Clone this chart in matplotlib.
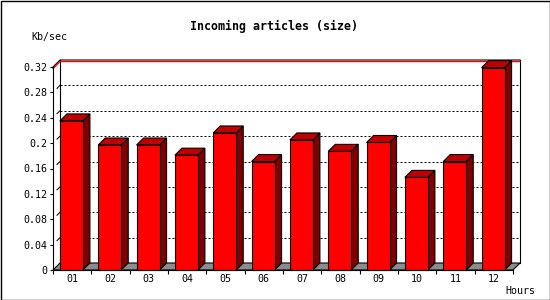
import matplotlib
matplotlib.use("Agg")
import matplotlib.pyplot as plt
from matplotlib.patches import Polygon, Rectangle
from matplotlib.transforms import IdentityTransform, ScaledTranslation

# valores
horas = ['01', '02', '03', '04', '05', '06', '07', '08', '09', '10', '11', '12']
kb_seg = [0.235, 0.197, 0.197, 0.181, 0.216, 0.171, 0.205, 0.187, 0.201, 0.146, 0.171, 0.319]
marcas_y = [0, 0.04, 0.08, 0.12, 0.16, 0.2, 0.24, 0.28, 0.32]
etiquetas_y = ['0', '0.04', '0.08', '0.12', '0.16', '0.2', '0.24', '0.28', '0.32']

MONO = 'DejaVu Sans Mono'
PROF = 7  # profundidad 3D en píxeles
LW = 0.8

fig = plt.figure(figsize=(5.5, 3), dpi=100)
ax = fig.add_axes([53 / 550, 30 / 300, 460 / 550, 203 / 300])
n = len(horas)
ax.set_xlim(0, n)
ax.set_ylim(0, 0.32)

ident = IdentityTransform()
fondo = ax.transData + ScaledTranslation(PROF / 100, PROF / 100, fig.dpi_scale_trans)


def px(x, y, atras=False):
    X, Y = ax.transData.transform((x, y))
    if atras:
        return (X + PROF, Y + PROF)
    return (X, Y)


def poligono(puntos, color, z):
    ax.add_patch(Polygon(puntos, closed=True, facecolor=color, edgecolor='black',
                         linewidth=LW, transform=ident, clip_on=False, zorder=z))


# suelo gris
poligono([px(0, 0), px(n, 0), px(n, 0, True), px(0, 0, True)], '#8c8c8c', 1)

# rejilla punteada en la pared del fondo
for v in marcas_y[1:-1]:
    ax.plot([0, n], [v, v], color='black', lw=0.72, ls=(0, (2, 2)),
            transform=fondo, clip_on=False, zorder=1)
    # pequeña marca diagonal entre el eje y la pared
    p, q = px(0, v), px(0, v, True)
    ax.plot([p[0] + 4, q[0]], [p[1] + 4, q[1]], color='black', lw=0.72,
            transform=ident, clip_on=False, zorder=1)

# bordes de la pared del fondo
ax.plot([0, 0], [0, 0.32], color='black', lw=LW, transform=fondo, clip_on=False, zorder=1)
ax.plot([n, n], [0, 0.32], color='black', lw=LW, transform=fondo, clip_on=False, zorder=1)
a, b = px(0, 0.32), px(0, 0.32, True)
c = px(n, 0.32, True)
ax.plot([a[0], b[0], c[0]], [a[1] - 1.6, b[1] - 1.6, c[1] - 1.6], color='red', lw=0.9,
        transform=ident, clip_on=False, zorder=1)
ax.plot([a[0], b[0], c[0]], [a[1], b[1], c[1]], color='black', lw=LW,
        transform=ident, clip_on=False, zorder=1)

# barras 3D
for i, v in enumerate(kb_seg):
    x0, x1 = i + 0.18, i + 0.78
    poligono([px(x1, 0), px(x1, v), px(x1, v, True), px(x1, 0, True)], '#800000', 3)
    poligono([px(x0, v), px(x1, v), px(x1, v, True), px(x0, v, True)], '#c00000', 3)
    poligono([px(x0, 0), px(x1, 0), px(x1, v), px(x0, v)], '#ff0000', 4)

# ejes
for s in ['top', 'right']:
    ax.spines[s].set_visible(False)
for s in ['left', 'bottom']:
    ax.spines[s].set_linewidth(LW)
    ax.spines[s].set_zorder(5)
ax.set_yticks(marcas_y)
ax.set_yticklabels(etiquetas_y, fontfamily=MONO, fontsize=7.2)
ax.set_xticks(range(n + 1))
ax.set_xticklabels([])
ax.set_xticks([i + 0.5 for i in range(n)], minor=True)
ax.set_xticklabels(horas, minor=True, fontfamily=MONO, fontsize=7.2)
ax.tick_params(axis='y', length=2.2, width=LW, pad=2)
ax.tick_params(axis='x', which='major', length=3, width=LW)
ax.tick_params(axis='x', which='minor', length=0, pad=3)
ax.patch.set_visible(False)

# textos
fig.text(274 / 550, 274 / 300, 'Incoming articles (size)', ha='center', va='center',
         fontfamily=MONO, fontsize=8.4, fontweight='bold')
fig.text(31 / 550, 263 / 300, 'Kb/sec', ha='left', va='center', fontfamily=MONO, fontsize=7.2)
fig.text(505 / 550, 8.5 / 300, 'Hours', ha='left', va='center', fontfamily=MONO, fontsize=7.2)

# marco de la imagen
fig.add_artist(Rectangle((0.5 / 550, 0.5 / 300), 1 - 1 / 550, 1 - 1 / 300, fill=False,
                         edgecolor='black', lw=1, transform=fig.transFigure))

fig.savefig('out.png', dpi=100)
